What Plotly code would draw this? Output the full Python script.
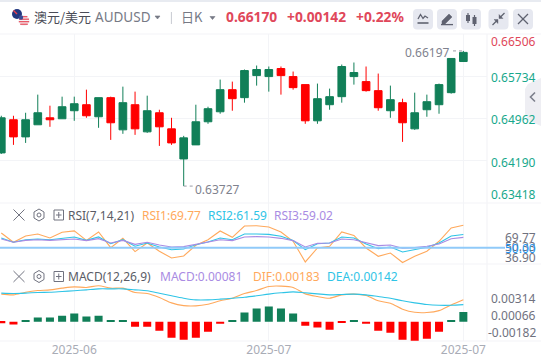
import plotly.graph_objects as go

W, H = 541, 361
FONT = "Noto Sans"
CJK = "Noto Sans CJK SC"

# ---------- data ----------
opens = [.64333,.64939,.64626,.64847,.64975,.64957,.65104,.65214,.64994,.65343,.64755,.65214,.64718,.65067,.64773,.64223,.6448,.64902,.65085,.65489,.65343,.65746,.65728,.65875,.65728,.65581,.6492,.65214,.65361,.65728,.65636,.65471,.65104,.65251,.64773,.65122,.65214,.65434,.66003]
highs = [.65012,.65012,.65067,.65398,.65196,.65361,.65361,.65489,.65343,.65361,.65544,.65453,.65379,.65122,.64975,.64645,.65214,.65177,.65673,.65636,.65857,.6593,.65912,.65912,.6582,.65581,.656,.65508,.65948,.65985,.65912,.65783,.65563,.65324,.65434,.65398,.656,.66059,.66197]
lows = [.64314,.6448,.64516,.64847,.6481,.64957,.6492,.64975,.64792,.64571,.64682,.64663,.647,.64461,.6448,.63727,.6448,.64865,.65049,.65104,.65251,.65563,.65453,.65398,.65489,.64865,.64865,.65122,.65251,.65581,.65453,.65104,.64975,.64535,.64755,.64994,.65049,.65416,.66003]
closes = [.64975,.64626,.64939,.65067,.64939,.65177,.65232,.65012,.65343,.64884,.65251,.64773,.65104,.6481,.64516,.64608,.64902,.65141,.65489,.65324,.65838,.65857,.65857,.65746,.65526,.6492,.65324,.65361,.65912,.65802,.65471,.65159,.65306,.64884,.65067,.65269,.65581,.66059,.6617]

rsi1 = [62.9,54.7,60.3,62.0,58.5,63.5,64.7,56.4,63.8,50.0,58.2,46.5,54.1,46.8,40.9,42.7,52.1,57.0,64.7,59.1,69.0,69.3,68.2,63.8,55.6,37.4,49.7,51.2,63.8,60.8,49.7,42.4,45.3,36.9,42.4,46.8,55.6,67.3,69.77]
rsi2 = [58.5,54.7,57.0,57.6,57.0,58.5,59.4,56.4,59.4,53.5,57.0,51.2,54.1,50.6,48.2,48.8,52.6,55.0,58.5,57.0,62.0,62.0,61.7,60.0,56.2,48.2,53.5,54.1,59.4,58.5,53.2,49.1,50.6,46.2,48.2,50.3,54.1,60.3,61.59]
rsi3 = [57.6,54.7,56.4,57.0,56.4,57.3,57.6,56.2,57.9,54.1,56.4,52.9,54.7,52.3,50.6,50.9,52.9,54.4,57.0,56.2,59.4,59.7,59.4,58.2,56.2,50.6,53.8,54.1,57.6,57.0,54.1,51.8,52.3,49.4,50.0,51.2,53.2,57.9,59.02]

dif = [.0023,.00224,.00246,.0026,.00266,.0028,.00291,.00286,.003,.0028,.0028,.00244,.00235,.00202,.00157,.00134,.00132,.00146,.00174,.00196,.00235,.0026,.00294,.00297,.00286,.00232,.0021,.00196,.00224,.0023,.00218,.00174,.00154,.00104,.00078,.00076,.00092,.0014,.00183]
dea = [.00238,.00235,.00238,.00244,.00246,.00252,.00258,.00266,.00274,.00274,.00274,.00266,.00258,.00238,.00216,.00196,.00182,.00182,.00188,.00196,.00204,.00216,.0023,.00241,.00249,.00241,.00232,.00224,.00227,.0023,.00224,.0021,.00196,.00174,.00157,.00143,.00137,.00137,.00142]
macd = [-.00014,-.00025,.00006,.00034,.00034,.0005,.00067,.00042,.0005,.00006,.00006,-.00042,-.00042,-.00076,-.00134,-.00151,-.00134,-.00084,-.00017,.00006,.00076,.00109,.00126,.00109,.00067,-.00034,-.0005,-.00067,-.00006,.00006,-.00017,-.00076,-.00092,-.00151,-.0016,-.00143,-.00084,.00006,.00081]

date_ticks = [6, 22, 38]
date_labels = ["2025-06", "2025-07", "2025-07"]
price_grid = [.65734, .64962, .6419]
price_labels = ["0.66506", "0.65734", "0.64962", "0.64190", "0.63418"]
rsi_labels = ["69.77", "50.33", "50.00", "36.90"]
macd_labels = ["0.00314", "0.00066", "-0.00182"]

# ---------- colours ----------
GREEN, RED = "#117f58", "#ff0000"
ORANGE, TEAL, PURPLE = "#ffa95c", "#2fc4e6", "#a98be3"
GRID = "#f3f4f7"
AXGRAY = "#70727f"
ICON = "#5f6270"

# ---------- pixel helpers for page furniture ----------
def px(x): return x / W
def py(y): return 1 - y / H
def path(pts, close=False):
    s = "M" + " L".join(f"{px(x):.5f} {py(y):.5f}" for x, y in pts)
    return s + (" Z" if close else "")

shapes, annos = [], []

def line(pts, color, w=1.0, fill=None, close=False, layer="above"):
    shapes.append(dict(type="path", xref="paper", yref="paper", path=path(pts, close),
                       line=dict(color=color, width=w), fillcolor=fill or "rgba(0,0,0,0)", layer=layer))
def rect(x0, y0, x1, y1, fill, layer="below", lc=None, w=0):
    shapes.append(dict(type="rect", xref="paper", yref="paper", x0=px(x0), x1=px(x1), y0=py(y0), y1=py(y1),
                       fillcolor=fill, line=dict(color=lc or fill, width=w), layer=layer))
def circle(cx, cy, r, fill, layer="above", lc=None, w=0):
    shapes.append(dict(type="circle", xref="paper", yref="paper", x0=px(cx-r), x1=px(cx+r), y0=py(cy-r), y1=py(cy+r),
                       fillcolor=fill, line=dict(color=lc or fill, width=w), layer=layer))
def text(x, y, s, color, size=12, anchor="left", family=FONT, bold=False):
    annos.append(dict(xref="paper", yref="paper", x=px(x), y=py(y), text=f"<b>{s}</b>" if bold else s, showarrow=False,
                      xanchor=anchor, yanchor="middle", font=dict(color=color, size=size, family=family),
                      borderpad=0, borderwidth=0))

# page bands and separators
rect(0, 0, W, 2, "#e8ebf1")
for y in (34, 203, 264, 341):
    line([(0, y), (W, y)], GRID, 1.2, layer="below")
line([(487, 34), (487, 341)], GRID, 1.2, layer="below")

# side tab
line([(541, 78), (528, 84), (525, 89), (525, 114), (528, 120), (541, 126)], "#eeeef3", 0, fill="#eeeef3", close=True, layer="below")
line([(535, 92.5), (530.5, 97), (535, 101.5)], "#7c7f8c", 1.6)

# flags
circle(17, 14, 5, "#22377f")
line([(13.5, 10.5), (17, 14)], "#e8414f", 1.4)
circle(24, 20.5, 5.5, "#f4f4f6")
for y, hw in ((16.7, 3.4), (19.2, 5), (21.7, 5.2), (24.2, 3.8)):
    line([(24 - hw, y), (24 + hw, y)], "#e8505f", 1.3)
circle(21, 17.5, 2.2, "#3a4d96")

# header text
text(33.5, 17, "澳元/美元", "#4a4c56", 13, family=CJK)
text(95, 17.5, "AUDUSD", "#767985", 13.5)
line([(155, 16), (160, 16), (157.5, 19)], "#767985", 0.6, fill="#767985", close=True)
line([(171.4, 12), (171.4, 24)], "#c8cad2", 1)
text(181, 17, "日K", "#767985", 13, family=CJK)
line([(210, 16.5), (215, 16.5), (212.5, 19.5)], "#767985", 0.6, fill="#767985", close=True)
text(226, 17, "0.66170", "#e0475a", 13.8, bold=True)
text(287, 17, "+0.00142", "#e0475a", 13.8, bold=True)
text(356, 17, "+0.22%", "#e0475a", 13.8, bold=True)

# header buttons
for cx in (423, 447, 471, 498.5, 523):
    x0, x1, y0, y1, r = cx - 10, cx + 10, 9, 29.5, 4
    shapes.append(dict(type="path", xref="paper", yref="paper",
        path=(f"M{px(x0+r):.5f} {py(y0):.5f} L{px(x1-r):.5f} {py(y0):.5f} Q{px(x1):.5f} {py(y0):.5f} {px(x1):.5f} {py(y0+r):.5f} "
              f"L{px(x1):.5f} {py(y1-r):.5f} Q{px(x1):.5f} {py(y1):.5f} {px(x1-r):.5f} {py(y1):.5f} "
              f"L{px(x0+r):.5f} {py(y1):.5f} Q{px(x0):.5f} {py(y1):.5f} {px(x0):.5f} {py(y1-r):.5f} "
              f"L{px(x0):.5f} {py(y0+r):.5f} Q{px(x0):.5f} {py(y0):.5f} {px(x0+r):.5f} {py(y0):.5f} Z"),
        fillcolor="#e6e8f0", line=dict(color="#e6e8f0", width=0), layer="below"))
# icon 1: line chart with baseline
line([(418, 19), (420.5, 14.5), (423, 18.5), (425, 16), (428, 18)], ICON, 1.3)
line([(417.5, 23), (428.5, 23)], ICON, 1.6)
# icon 2: pencil
line([(442, 24), (442, 21), (449, 14), (452, 17), (445, 24)], ICON, 0.5, fill=ICON, close=True)
line([(441, 24.6), (453, 24.6)], ICON, 1.3)
# icon 3: candles
line([(468, 13), (468, 23)], ICON, 1.2)
rect(466, 15, 470, 21, ICON, layer="above")
line([(474.5, 15), (474.5, 26)], ICON, 1.2)
rect(472.5, 17, 476.5, 24, ICON, layer="above")
# icon 4: compress arrows
line([(492.5, 25), (497.5, 20)], ICON, 1.3)
line([(494, 19.5), (498, 19.5), (498, 23.5)], ICON, 0.4, fill=ICON, close=True)
line([(504.5, 13), (499.5, 18)], ICON, 1.3)
line([(499, 14.5), (499, 18.5), (503, 18.5)], ICON, 0.4, fill=ICON, close=True)
# icon 5: close
line([(518, 14), (528, 24)], ICON, 1.2)
line([(518, 24), (528, 14)], ICON, 1.2)

# pane controls
def controls(cy):
    c = "#70727f"
    line([(13.5, cy - 5.5), (24.5, cy + 5.5)], c, 1)
    line([(13.5, cy + 5.5), (24.5, cy - 5.5)], c, 1)
    hexa = [(39, cy - 6), (44, cy - 3), (44, cy + 3), (39, cy + 6), (34, cy + 3), (34, cy - 3)]
    line(hexa, c, 1, close=True)
    circle(39, cy, 2, "rgba(0,0,0,0)", lc=c, w=1)
    rect(54, cy - 5, 63.5, cy + 5, "rgba(0,0,0,0)", layer="above", lc=c, w=1)
    line([(56, cy), (61.5, cy)], c, 1)
    line([(58.75, cy - 3), (58.75, cy + 3)], c, 1)

controls(215)
controls(276.5)
text(67.5, 215.5, "RSI(7,14,21)", "#5a5c66", 12)
text(141.5, 215.5, "RSI1:69.77", ORANGE, 12)
text(208, 215.5, "RSI2:61.59", TEAL, 12)
text(274, 215.5, "RSI3:59.02", PURPLE, 12)
text(67.5, 276.5, "MACD(12,26,9)", "#5a5c66", 12)
text(160, 276.5, "MACD:0.00081", PURPLE, 12)
text(253, 276.5, "DIF:0.00183", ORANGE, 12)
text(327, 276.5, "DEA:0.00142", TEAL, 12)

# price axis labels (the chart holds the outermost ones inside the pane)
for s, y, col in zip(price_labels, (41.5, 78, 119.3, 162.5, 194.5),
                     ("#e0475a", "#18a88c", "#18a88c", "#18a88c", "#18a88c")):
    text(536, y, s, col, 12, anchor="right")
for s, y, col in zip(rsi_labels, (237.5, 246, 248.5, 257), (AXGRAY, AXGRAY, "#2196f3", AXGRAY)):
    text(535.5, y, s, col, 12, anchor="right")
for s, y in zip(macd_labels, (298.7, 315.3, 332.3)):
    text(535.5, y, s, AXGRAY, 12, anchor="right")

# extreme-price notes
text(449.5, 52.5, "0.66197", "#80828e", 12, anchor="right")
text(194.5, 189, "0.63727", "#80828e", 12, anchor="left")
xs = list(range(len(closes)))
shapes.append(dict(type="line", xref="x", yref="y", x0=15, x1=15.8, y0=min(lows), y1=min(lows),
                   line=dict(color="#9a9ca6", width=1, dash="dot"), layer="above"))
shapes.append(dict(type="line", xref="x", yref="y", x0=37.15, x1=38, y0=max(highs), y1=max(highs),
                   line=dict(color="#9a9ca6", width=1, dash="dot"), layer="above"))

# RSI 50 line
shapes.append(dict(type="line", xref="paper", yref="y2", x0=0, x1=px(505), y0=50, y1=50,
                   line=dict(color="#90caf9", width=2), layer="above"))

fig = go.Figure()
fig.add_trace(go.Candlestick(x=xs, open=opens, high=highs, low=lows, close=closes, xaxis="x", yaxis="y",
    increasing=dict(line=dict(color=GREEN, width=1), fillcolor=GREEN),
    decreasing=dict(line=dict(color=RED, width=1), fillcolor=RED),
    whiskerwidth=0, showlegend=False, hoverinfo="skip"))
for vals, col, w in ((rsi1, ORANGE, 1.1), (rsi2, TEAL, 1.1), (rsi3, PURPLE, 1.1)):
    fig.add_trace(go.Scatter(x=xs, y=vals, mode="lines", xaxis="x2", yaxis="y2",
                             line=dict(color=col, width=w), showlegend=False, hoverinfo="skip"))
fig.add_trace(go.Bar(x=xs, y=macd, xaxis="x3", yaxis="y3", width=0.66,
                     marker=dict(color=[GREEN if v > 0 else RED for v in macd], line=dict(width=0)),
                     showlegend=False, hoverinfo="skip"))
for vals, col in ((dif, ORANGE), (dea, TEAL)):
    fig.add_trace(go.Scatter(x=xs, y=vals, mode="lines", xaxis="x3", yaxis="y3",
                             line=dict(color=col, width=1.1, shape="spline", smoothing=0.8),
                             showlegend=False, hoverinfo="skip"))

xr = [-0.107, 39.97]
dom = [0, 487.3 / W]
xbase = dict(range=xr, domain=dom, tickmode="array", tickvals=date_ticks, showgrid=True, gridcolor=GRID, gridwidth=1.2,
             zeroline=False, showline=False, ticks="", fixedrange=True, rangeslider=dict(visible=False))
fig.update_layout(
    width=W, height=H, autosize=False, margin=dict(l=0, r=0, t=0, b=0),
    paper_bgcolor="white", plot_bgcolor="white", showlegend=False, boxgap=0.1,
    font=dict(family=FONT, size=12, color=AXGRAY),
    shapes=shapes, annotations=annos,
    xaxis=dict(**xbase, anchor="y", showticklabels=False),
    xaxis2=dict(**xbase, anchor="y2", showticklabels=False),
    xaxis3=dict(**xbase, anchor="y3", showticklabels=True, ticktext=date_labels,
                tickfont=dict(color="#a9acb6", size=12, family=FONT)),
    yaxis=dict(domain=[py(203), py(34)], range=[.63418, .66506], tickvals=price_grid, showticklabels=False,
               showgrid=True, gridcolor=GRID, gridwidth=1.2, zeroline=False, fixedrange=True),
    yaxis2=dict(domain=[py(264), py(203)], range=[35.6, 89.3], showticklabels=False, showgrid=False, zeroline=False, fixedrange=True),
    yaxis3=dict(domain=[py(341), py(264)], range=[-.00162, .00482], showticklabels=False, showgrid=False, zeroline=False, fixedrange=True),
)
fig.write_html("out.html", config=dict(displayModeBar=False),
               post_script="document.body.style.margin='0';document.documentElement.style.overflow='hidden';")
